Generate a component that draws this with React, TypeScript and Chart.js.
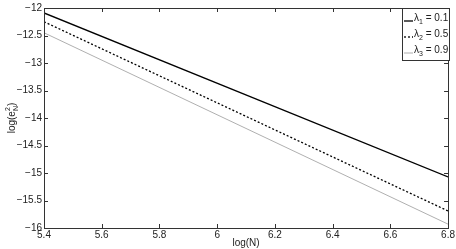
import React, { useEffect, useRef } from "react";
import { Chart, registerables } from "chart.js";
Chart.register(...registerables);

const xValues = [5.4, 6.8];
const lambda1 = [-12.09, -15.07];
const lambda2 = [-12.25, -15.69];
const lambda3 = [-12.45, -15.93];
const seriesSubs = ["1", "2", "3"];
const seriesValues = ["0.1", "0.5", "0.9"];
const xTitle = "log(N)";

const FONT = "Liberation Sans, Arial, Helvetica, sans-serif";
const fmt = (v: any) => String(Math.round(Number(v) * 10) / 10).replace("-", "\u2212");

const framePlugin = {
  id: "frame",
  afterDraw(chart: any) {
    const { ctx, chartArea: a, scales } = chart;
    const xs = scales.x, ys = scales.y;
    ctx.save();
    ctx.strokeStyle = "#333";
    ctx.lineWidth = 1;
    ctx.strokeRect(Math.round(a.left) + 0.5, Math.round(a.top) + 0.5, Math.round(a.right - a.left), Math.round(a.bottom - a.top));
    const tl = 4;
    ctx.beginPath();
    xs.ticks.forEach((t: any) => {
      const px = Math.round(xs.getPixelForValue(t.value)) + 0.5;
      ctx.moveTo(px, a.bottom); ctx.lineTo(px, a.bottom - tl);
      ctx.moveTo(px, a.top); ctx.lineTo(px, a.top + tl);
    });
    ys.ticks.forEach((t: any) => {
      const py = Math.round(ys.getPixelForValue(t.value)) + 0.5;
      ctx.moveTo(a.left, py); ctx.lineTo(a.left + tl, py);
      ctx.moveTo(a.right, py); ctx.lineTo(a.right - tl, py);
    });
    ctx.stroke();

    ctx.fillStyle = "#222";
    ctx.translate(12, (a.top + a.bottom) / 2);
    ctx.rotate(-Math.PI / 2);
    ctx.font = `10px ${FONT}`;
    ctx.textBaseline = "middle";
    const p1 = "log(e";
    const w1 = ctx.measureText(p1).width;
    ctx.font = `7px ${FONT}`;
    const wsup = ctx.measureText("2").width;
    const wsub = ctx.measureText("N").width;
    ctx.font = `10px ${FONT}`;
    const w3 = ctx.measureText(")").width;
    const total = w1 + Math.max(wsup, wsub) + w3;
    const x0 = -total / 2;
    ctx.textAlign = "left";
    ctx.fillText(p1, x0, 0);
    ctx.font = `7px ${FONT}`;
    ctx.fillText("2", x0 + w1, -4);
    ctx.fillText("N", x0 + w1, 4);
    ctx.font = `10px ${FONT}`;
    ctx.fillText(")", x0 + w1 + Math.max(wsup, wsub), 0);
    ctx.restore();

    ctx.save();
    ctx.fillStyle = "#222";
    ctx.font = `10px ${FONT}`;
    ctx.textAlign = "center";
    ctx.textBaseline = "middle";
    ctx.fillText(xTitle, (a.left + a.right) / 2, 243);
    ctx.restore();

    ctx.save();
    const lx = 402, ly = Math.round(a.top), lw = 47, lh = 52;
    ctx.fillStyle = "#fff";
    ctx.fillRect(lx, ly, lw, lh);
    ctx.strokeStyle = "#333";
    ctx.lineWidth = 1;
    ctx.strokeRect(lx + 0.5, ly + 0.5, lw, lh);
    chart.data.datasets.forEach((ds: any, i: number) => {
      const yy = ly + 10 + i * 16;
      ctx.beginPath();
      ctx.strokeStyle = ds.borderColor;
      ctx.lineWidth = ds.borderWidth;
      ctx.setLineDash(ds.borderDash || []);
      ctx.moveTo(lx + 2, yy + 3); ctx.lineTo(lx + 11, yy + 3);
      ctx.stroke();
      ctx.setLineDash([]);
      ctx.fillStyle = "#222";
      ctx.textAlign = "left";
      ctx.textBaseline = "middle";
      ctx.font = `10px ${FONT}`;
      let tx = lx + 12;
      ctx.fillText("\u03bb", tx, yy);
      tx += ctx.measureText("\u03bb").width;
      ctx.font = `7px ${FONT}`;
      ctx.fillText(seriesSubs[i], tx, yy + 4);
      tx += ctx.measureText(seriesSubs[i]).width;
      ctx.font = `10px ${FONT}`;
      ctx.fillText(" = " + seriesValues[i], tx, yy);
    });
    ctx.restore();
  },
};

export default function App() {
  const ref = useRef<HTMLCanvasElement>(null);
  useEffect(() => {
    document.body.style.margin = "0";
    const mk = (arr: number[]) => xValues.map((x, i) => ({ x, y: arr[i] }));
    const chart = new Chart(ref.current!, {
      type: "line",
      data: {
        datasets: [
          { label: "l1", data: mk(lambda1), borderColor: "#000", borderWidth: 1.3, pointRadius: 0, fill: false },
          { label: "l2", data: mk(lambda2), borderColor: "#000", borderWidth: 1.3, borderDash: [2, 2], pointRadius: 0, fill: false },
          { label: "l3", data: mk(lambda3), borderColor: "#9a9a9a", borderWidth: 0.8, pointRadius: 0, fill: false },
        ],
      },
      options: {
        animation: false,
        responsive: false,
        layout: { padding: { left: 0, top: 5, right: 6, bottom: 0 } },
        plugins: { legend: { display: false }, tooltip: { enabled: false } },
        scales: {
          x: {
            type: "linear", min: 5.4, max: 6.8,
            grid: { display: false, drawTicks: false, tickLength: 0 }, border: { display: false },
            ticks: { stepSize: 0.2, color: "#222", font: { size: 10, family: FONT }, padding: 1, maxRotation: 0, callback: fmt },
            afterFit: (s: any) => { s.height = 21; },
          },
          y: {
            type: "linear", min: -16, max: -12,
            grid: { display: false, drawTicks: false, tickLength: 0 }, border: { display: false },
            ticks: { stepSize: 0.5, color: "#222", font: { size: 10, family: FONT }, padding: 2, callback: fmt },
            afterFit: (s: any) => { s.width = 44; },
          },
        },
      },
      plugins: [framePlugin],
    });
    return () => chart.destroy();
  }, []);
  return (
    <div style={{ position: "absolute", left: 0, top: 0 }}>
      <canvas ref={ref} width={456} height={249} style={{ display: "block" }} />
    </div>
  );
}
